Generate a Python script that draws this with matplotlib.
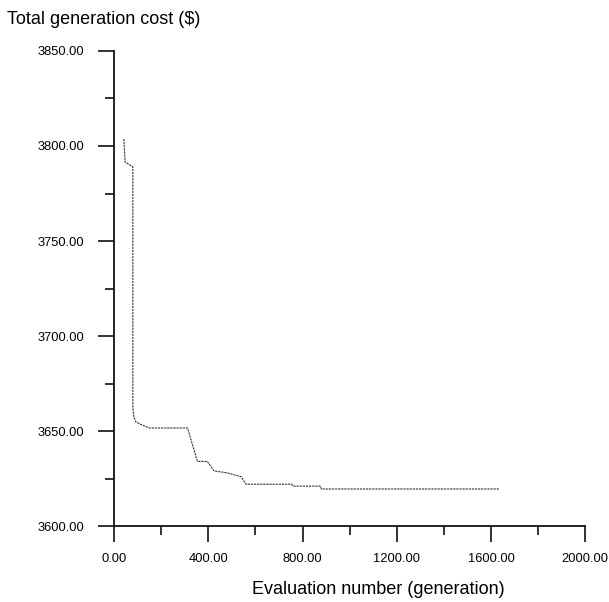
import matplotlib.pyplot as plt
from matplotlib.ticker import MultipleLocator, FormatStrFormatter

# Convergence curve
gen = [42, 47, 80, 80, 85, 93, 130, 150, 312, 354, 396, 425, 480, 539, 560, 754, 760, 876, 880, 1634]
cost = [3803.7, 3791.6, 3789, 3662, 3657, 3654.7, 3652.6, 3651.6, 3651.6, 3634, 3634, 3629,
        3628, 3626, 3622, 3622, 3621, 3621, 3619.5, 3619.5]

plt.rcParams['font.family'] = ['Liberation Sans', 'DejaVu Sans']

fig = plt.figure(figsize=(6.09, 6.02), dpi=100)
ax = fig.add_axes([0.1872, 0.1262, 0.961 - 0.1872, 0.9153 - 0.1262])

ax.plot(gen, cost, color='#333333', lw=0.8, linestyle=(0, (2, 0.8)))

ax.set_xlim(0, 2000)
ax.set_ylim(3600, 3850)
ax.xaxis.set_major_locator(MultipleLocator(400))
ax.xaxis.set_minor_locator(MultipleLocator(200))
ax.yaxis.set_major_locator(MultipleLocator(50))
ax.yaxis.set_minor_locator(MultipleLocator(25))
ax.xaxis.set_major_formatter(FormatStrFormatter('%.2f'))
ax.yaxis.set_major_formatter(FormatStrFormatter('%.2f'))

ax.spines['top'].set_visible(False)
ax.spines['right'].set_visible(False)
for s in ['left', 'bottom']:
    ax.spines[s].set_linewidth(1.3)
    ax.spines[s].set_color('#111111')

ax.tick_params(which='major', direction='out', length=11.5, width=1.2, labelsize=9.3, color='#111111')
ax.tick_params(axis='y', which='major', pad=10)
ax.tick_params(axis='x', which='major', pad=8)
ax.tick_params(which='minor', direction='out', length=6.5, width=1.2, color='#111111')

fig.text(0.012, 0.9676, 'Total generation cost ($)', fontsize=13, ha='left', va='center')
fig.text(0.622, 0.02, 'Evaluation number (generation)', fontsize=13, ha='center', va='center')

fig.savefig('out.png', dpi=100)
